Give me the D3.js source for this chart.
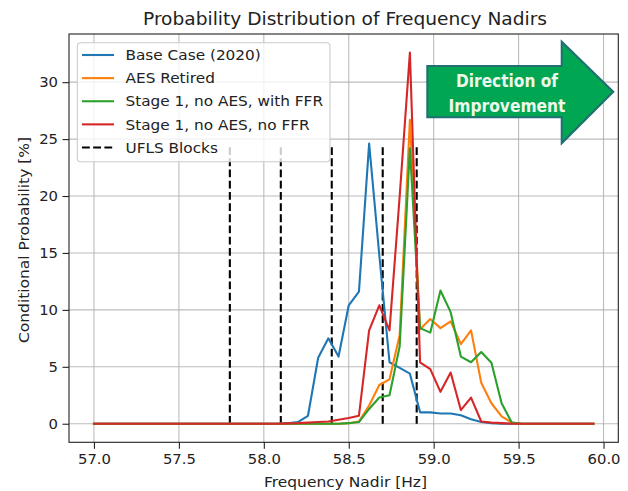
<!DOCTYPE html>
<html>
<head>
<meta charset="utf-8">
<script src="https://cdn.jsdelivr.net/npm/d3@7"></script>
<style>
  html, body { margin: 0; padding: 0; background: #fff; }
  svg { display: block; }
  text { font-family: "DejaVu Sans", sans-serif; }
</style>
</head>
<body>
<svg id="chart" width="628" height="491"></svg>
<script>
// ---- data ----
const freq = [57.00,57.06,57.12,57.18,57.24,57.30,57.36,57.42,57.48,57.54,
              57.60,57.66,57.72,57.78,57.84,57.90,57.96,58.02,58.08,58.14,
              58.20,58.26,58.32,58.38,58.44,58.50,58.56,58.62,58.68,58.74,
              58.80,58.86,58.92,58.98,59.04,59.10,59.16,59.22,59.28,59.34,
              59.40,59.46,59.52,59.58,59.64,59.70,59.76,59.82,59.88,59.94];

const baseCase = [0,0,0,0,0,0,0,0,0,0,
                  0,0,0,0,0,0,0,0,0,0.05,
                  0.15,0.7,5.8,7.5,5.9,10.4,11.6,24.6,14.8,5.4,
                  4.9,4.4,1.0,1.0,0.9,0.9,0.75,0.4,0.15,0.05,
                  0,0,0,0,0,0,0,0,0,0];
const aesRetired = [0,0,0,0,0,0,0,0,0,0,
                    0,0,0,0,0,0,0,0,0,0,
                    0,0,0,0,0,0.05,0.2,1.6,3.4,3.9,
                    7.8,26.7,8.3,9.2,8.4,9.0,7.0,8.2,3.6,1.8,
                    0.65,0.1,0,0,0,0,0,0,0,0];
const stage1FFR = [0,0,0,0,0,0,0,0,0,0,
                   0,0,0,0,0,0,0,0,0,0,
                   0,0,0,0,0,0.05,0.15,1.3,2.3,2.5,
                   6.8,24.2,8.4,8.0,11.7,9.8,5.9,5.4,6.3,5.35,
                   1.8,0.1,0,0,0,0,0,0,0,0];
const stage1NoFFR = [0,0,0,0,0,0,0,0,0,0,
                     0,0,0,0,0,0,0,0,0,0.03,
                     0.05,0.1,0.15,0.2,0.35,0.5,0.7,8.2,10.4,8.2,
                     20.0,32.6,5.4,4.8,2.8,4.5,1.2,2.3,0.2,0.1,
                     0.05,0,0,0,0,0,0,0,0,0];

const seriesNames = ["Base Case (2020)", "AES Retired", "Stage 1, no AES, with FFR", "Stage 1, no AES, no FFR"];
const seriesColors = ["#1f77b4", "#ff7f0e", "#2ca02c", "#d62728"];
const seriesValues = [baseCase, aesRetired, stage1FFR, stage1NoFFR];

const uflsBlocks = [57.8, 58.1, 58.4, 58.7, 58.9];
const uflsTop = 24.4;
const uflsLabel = "UFLS Blocks";

const xTicks = [57.0, 57.5, 58.0, 58.5, 59.0, 59.5, 60.0];
const yTicks = [0, 5, 10, 15, 20, 25, 30];

const titleText = "Probability Distribution of Frequency Nadirs";
const xLabel = "Frequency Nadir [Hz]";
const yLabel = "Conditional Probability [%]";
const arrowLines = ["Direction of", "Improvement"];

// ---- layout ----
const svg = d3.select("#chart");
const L = 69, R = 618.3, T = 34, B = 442.3;

const xMin = d3.min(freq), xMax = d3.max(freq);
const xPad = (xMax - xMin) * 0.05;
const yMaxData = d3.max(seriesValues.flat());
const yPad = yMaxData * 0.05;

const x = d3.scaleLinear().domain([xMin - xPad, xMax + xPad]).range([L, R]);
const y = d3.scaleLinear().domain([0 - yPad, yMaxData + yPad]).range([B, T]);

// grid
const grid = svg.append("g");
grid.selectAll("line.gx").data(xTicks).join("line")
  .attr("x1", d => x(d)).attr("x2", d => x(d)).attr("y1", T).attr("y2", B)
  .attr("stroke", "#b0b0b0").attr("stroke-width", 1.1).attr("stroke-opacity", 0.85);
grid.selectAll("line.gy").data(yTicks).join("line")
  .attr("x1", L).attr("x2", R).attr("y1", d => y(d)).attr("y2", d => y(d))
  .attr("stroke", "#b0b0b0").attr("stroke-width", 1.1).attr("stroke-opacity", 0.85);

// clip
svg.append("clipPath").attr("id", "clip").append("rect")
  .attr("x", L).attr("y", T).attr("width", R - L).attr("height", B - T);
const plot = svg.append("g").attr("clip-path", "url(#clip)");

// UFLS blocks
plot.selectAll("line.ufls").data(uflsBlocks).join("line")
  .attr("x1", d => x(d)).attr("x2", d => x(d))
  .attr("y1", y(0)).attr("y2", y(uflsTop))
  .attr("stroke", "#000").attr("stroke-width", 2.1)
  .attr("stroke-dasharray", "7.8,3.4");

// series
const line = d3.line().x((d, i) => x(freq[i])).y(d => y(d));
seriesValues.forEach((vals, k) => {
  plot.append("path").datum(vals)
    .attr("d", line)
    .attr("fill", "none")
    .attr("stroke", seriesColors[k])
    .attr("stroke-width", 2.1)
    .attr("stroke-linejoin", "round")
    .attr("stroke-linecap", "square");
});

// axes
const xAxis = svg.append("g").attr("transform", `translate(0,${B})`)
  .call(d3.axisBottom(x).tickValues(xTicks).tickFormat(d3.format(".1f")).tickSize(6.5).tickPadding(4.5));
const yAxis = svg.append("g").attr("transform", `translate(${L},0)`)
  .call(d3.axisLeft(y).tickValues(yTicks).tickFormat(d3.format("d")).tickSize(6.5).tickPadding(4.5));
[xAxis, yAxis].forEach(a => {
  a.select(".domain").remove();
  a.selectAll(".tick line").attr("stroke", "#222").attr("stroke-width", 1.1);
  a.selectAll(".tick text").attr("font-size", 14.8).attr("fill", "#222")
    .attr("font-family", "DejaVu Sans, sans-serif");
});

// spines
svg.append("rect").attr("x", L).attr("y", T).attr("width", R - L).attr("height", B - T)
  .attr("fill", "none").attr("stroke", "#222").attr("stroke-width", 1.1);

// labels
svg.append("text").attr("x", 345).attr("y", 25)
  .attr("text-anchor", "middle").attr("font-size", 17).attr("fill", "#222")
  .attr("textLength", 404).attr("lengthAdjust", "spacingAndGlyphs").text(titleText);
svg.append("text").attr("x", 345.5).attr("y", 487)
  .attr("text-anchor", "middle").attr("font-size", 14.8).attr("fill", "#222")
  .attr("textLength", 163).attr("lengthAdjust", "spacingAndGlyphs").text(xLabel);
svg.append("text").attr("transform", `translate(28.5,240) rotate(-90)`)
  .attr("text-anchor", "middle").attr("font-size", 14.8).attr("fill", "#222")
  .attr("textLength", 206).attr("lengthAdjust", "spacingAndGlyphs").text(yLabel);

// legend
const lg = svg.append("g");
lg.append("rect").attr("x", 77.3).attr("y", 42.7).attr("width", 252.7).attr("height", 119)
  .attr("rx", 3.5).attr("fill", "#fff").attr("fill-opacity", 0.8)
  .attr("stroke", "#cccccc").attr("stroke-width", 1.1);
const legendItems = seriesNames.map((n, k) => ({ name: n, color: seriesColors[k], dash: null }))
  .concat([{ name: uflsLabel, color: "#000", dash: "7.8,3.4" }]);
const rowY = d3.scaleLinear().domain([0, 4]).range([55, 147.5]);
legendItems.forEach((it, k) => {
  lg.append("line").attr("x1", 82).attr("x2", 114).attr("y1", rowY(k)).attr("y2", rowY(k))
    .attr("stroke", it.color).attr("stroke-width", 2.1)
    .attr("stroke-dasharray", it.dash);
  const t = lg.append("text").attr("x", 125.5).attr("y", rowY(k)).attr("dy", "0.36em")
    .attr("font-size", 14.5).attr("fill", "#222").text(it.name);
  const w = t.node().getComputedTextLength();
  t.attr("textLength", w * 1.055).attr("lengthAdjust", "spacingAndGlyphs");
});

// arrow
const ag = svg.append("g");
const ax0 = 427.3, ay0 = 66, ay1 = 117.3, hx = 561.7, hy0 = 41.7, hy1 = 143.3, tx = 613.3, ty = 91.7;
ag.append("path")
  .attr("d", `M${ax0},${ay0} L${hx},${ay0} L${hx},${hy0} L${tx},${ty} L${hx},${hy1} L${hx},${ay1} L${ax0},${ay1} Z`)
  .attr("fill", "#00a651").attr("stroke", "#1f6f73").attr("stroke-width", 2);
const arrowWidths = [102, 117];
arrowLines.forEach((t, k) => {
  ag.append("text").attr("x", 507).attr("y", 80 + k * 25).attr("dy", "0.36em")
    .attr("text-anchor", "middle").attr("font-family", "Open Sans, sans-serif")
    .attr("font-weight", "bold").attr("font-size", 18.5).attr("fill", "#eef8ea")
    .attr("textLength", arrowWidths[k]).attr("lengthAdjust", "spacingAndGlyphs").text(t);
});
</script>
</body>
</html>
